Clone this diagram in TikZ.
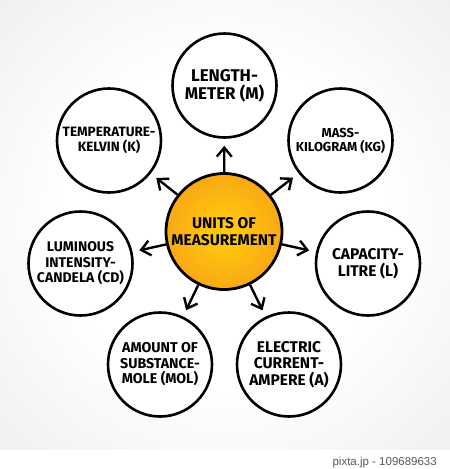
\documentclass[tikz,border=0pt]{standalone}
\usepackage{fontspec}
\setmainfont{Fira Sans}
\newfontfamily\footfont{Liberation Sans}
\usetikzlibrary{arrows.meta}
\definecolor{hubin}{RGB}{255,198,14}
\definecolor{hubout}{RGB}{243,146,26}
\definecolor{bgedge}{RGB}{228,228,228}
\definecolor{foottext}{RGB}{90,90,90}
\pgfdeclareradialshading{hubshade}{\pgfpoint{0bp}{0bp}}{color(0bp)=(hubin); color(6bp)=(hubin); color(40bp)=(hubout); color(50bp)=(hubout)}
\pgfdeclareradialshading{bgshade}{\pgfpoint{0bp}{0bp}}{color(0bp)=(white); color(18bp)=(white); color(50bp)=(bgedge); color(72bp)=(bgedge)}
\begin{document}
\begin{tikzpicture}[x=1pt,y=-1pt,
  unit/.style={circle, draw=black, line width=2.6pt, fill=white, minimum size=104pt,
    inner sep=0pt, align=center, text=black},
  hub/.style={circle, draw=black, line width=2.8pt, minimum size=116pt,
    inner sep=0pt, align=center, text=black, shading=hubshade},
  link/.style={line width=2.4pt, -{Straight Barb[length=9pt,width=15pt]}, shorten >=7pt},
  fs/.style n args={2}{font=\bfseries\fontsize{#1}{#2}\selectfont}
]
\useasboundingbox (0,0) rectangle (450,469);
\shade[shading=bgshade] (0,0) rectangle (450,450);
\fill[white] (0,450) rectangle (450,469);

\node[hub, fs={15.5}{16.5}] (hub) at (224,231.5) {UNITS OF\\MEASUREMENT};

\node[unit, fs={17}{18}] (len) at (224.5,85.5) {LENGTH-\\METER (M)};
\node[unit, fs={13.5}{14.5}] (temp) at (109,140.5) {TEMPERATURE-\\KELVIN (K)};
\node[unit, fs={13}{14}] (mass) at (340.5,140.5) {MASS-\\KILOGRAM (KG)};
\node[unit, fs={14}{15.5}] (lum) at (80.5,263.5) {LUMINOUS\\INTENSITY-\\CANDELA (CD)};
\node[unit, fs={15.5}{16.5}] (cap) at (368,263.5) {CAPACITY-\\LITRE (L)};
\node[unit, fs={14.2}{15.5}] (amt) at (160,364.5) {AMOUNT OF\\SUBSTANCE-\\MOLE (MOL)};
\node[unit, fs={15.5}{16.5}] (elec) at (289,364.5) {ELECTRIC\\CURRENT-\\AMPERE (A)};

\foreach \t in {len,temp,mass,lum,cap,amt,elec}
  \draw[link] (hub) -- (\t);

\node[anchor=base east, font=\footfont\fontsize{11.5}{13}\selectfont, text=foottext, inner sep=0pt]
  (foot) at (437,465) {pixta.jp - 109689633};
\end{tikzpicture}
\end{document}
